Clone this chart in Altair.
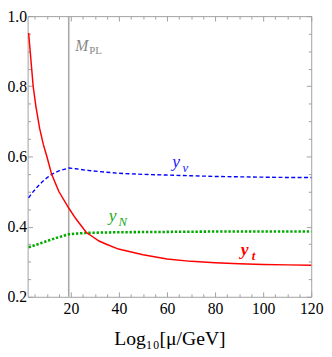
import altair as alt
import pandas as pd

FONT = "Liberation Serif"
FRAME = "#a0a0a0"

# ---- data ----
x_red = [2.4, 3.0, 4.3, 5.5, 7.0, 8.5, 10.0, 12.0, 15.0, 19.1, 22.0, 26.5, 28.5, 31.7, 35.0, 39.8,
         50.0, 60.0, 70.0, 80.0, 90.0, 100.0, 110.0, 120.0]
y_red = [0.952, 0.905, 0.80, 0.74, 0.68, 0.635, 0.60, 0.549, 0.50, 0.453, 0.423, 0.383, 0.374, 0.359,
         0.349, 0.336, 0.32, 0.308, 0.301, 0.297, 0.294, 0.292, 0.291, 0.290]

x_blue = [2.4, 4.0, 6.0, 8.0, 10.0, 12.0, 15.0, 19.1, 22.0, 26.0, 31.7, 40.0, 50.0, 60.0, 70.0,
          80.0, 90.0, 100.0, 110.0, 120.0]
y_blue = [0.482, 0.497, 0.513, 0.527, 0.539, 0.549, 0.559, 0.567, 0.565, 0.561, 0.557, 0.552, 0.549,
          0.547, 0.545, 0.543, 0.542, 0.541, 0.540, 0.540]

x_green = [2.4, 5.0, 8.0, 11.0, 14.0, 17.0, 19.1, 22.0, 26.0, 32.0, 40.0, 60.0, 80.0, 100.0, 120.0]
y_green = [0.341, 0.347, 0.354, 0.361, 0.368, 0.374, 0.378, 0.380, 0.382, 0.383, 0.384, 0.385,
           0.386, 0.386, 0.386]

planck_x = [19.1]

x_ticks_major = [20, 40, 60, 80, 100, 120]
x_ticks_minor = [5, 10, 15, 25, 30, 35, 45, 50, 55, 65, 70, 75, 85, 90, 95, 105, 110, 115]
y_ticks_major = [0.2, 0.4, 0.6, 0.8, 1.0]
y_ticks_minor = [0.25, 0.3, 0.35, 0.45, 0.5, 0.55, 0.65, 0.7, 0.75, 0.85, 0.9, 0.95]

# labels: main letters (italic), subscripts
main_text = ["y", "y", "M"]
main_x = [62.2, 35.8, 21.8]
main_y = [0.569, 0.4167, 0.90]
main_color = ["#1a1aff", "#22aa22", "#888888"]
main_size = [18, 18, 16]

sub_text = ["ν", "N"]
sub_x = [66.4, 39.8]
sub_y = [0.557, 0.403]
sub_color = ["#1a1aff", "#22aa22"]

yt_main = ["y"]
yt_main_x = [90.7]
yt_main_y = [0.319]
yt_sub = ["t"]
yt_sub_x = [95.2]
yt_sub_y = [0.306]

pl_text = ["PL"]
pl_x = [27.6]
pl_y = [0.892]

# ---- build ----
df = pd.concat([
    pd.DataFrame({"x": x_red, "y": y_red, "s": "yt"}),
    pd.DataFrame({"x": x_blue, "y": y_blue, "s": "ynu"}),
    pd.DataFrame({"x": x_green, "y": y_green, "s": "yN"}),
])

W, H = 289, 286
XS = alt.Scale(domain=[2, 120], nice=False, zero=False)
YS = alt.Scale(domain=[0.2, 1.0], nice=False, zero=False)


def tick_axis(orient, values, size, offset):
    return alt.Axis(orient=orient, values=values, labels=False, ticks=True, tickSize=size,
                    tickColor=FRAME, tickWidth=1, domain=False, grid=False, title=None,
                    offset=offset)


x_label_axis = alt.Axis(orient="bottom", values=x_ticks_major, format="d", ticks=False, tickSize=0,
                        domain=False, grid=False, labelFont=FONT, labelFontSize=16,
                        labelColor="black", labelPadding=4, labelFlush=False, labelOverlap=False,
                        title="Log₁₀[μ/GeV]", titleFont=FONT, titleFontSize=20,
                        titleFontWeight="normal", titleColor="black", titleY=49,
                        titleBaseline="alphabetic")
y_label_axis = alt.Axis(orient="left", values=y_ticks_major, format=".1f", ticks=False, tickSize=0,
                        domain=False, grid=False, labelFont=FONT, labelFontSize=16,
                        labelColor="black", labelPadding=1, labelFlush=False, labelOverlap=False,
                        title=None)

base = alt.Chart(df)


def line(series, color, xaxis, yaxis, **mk):
    return base.transform_filter(alt.datum.s == series).mark_line(color=color, **mk).encode(
        x=alt.X("x:Q", scale=XS, axis=xaxis),
        y=alt.Y("y:Q", scale=YS, axis=yaxis),
    )


red = line("yt", "#ff0000", x_label_axis, y_label_axis, strokeWidth=1.5)
blue = line("ynu", "#0000ff", tick_axis("top", x_ticks_major, 5, -H),
            tick_axis("right", y_ticks_major, 5, -W), strokeWidth=1.4, strokeDash=[4, 2.5])
green = line("yN", "#00aa00", tick_axis("top", x_ticks_minor, 3, -H),
             tick_axis("right", y_ticks_minor, 3, -W), strokeWidth=2.6, strokeDash=[2.4, 1.8])

rule = alt.Chart(pd.DataFrame({"x": planck_x})).mark_rule(color="#a8a8a8", strokeWidth=1.6).encode(
    x=alt.X("x:Q", scale=XS, axis=tick_axis("bottom", x_ticks_major, 5, -H))
)

main_df = pd.DataFrame({"t": main_text, "x": main_x, "y": main_y, "c": main_color, "fs": main_size})
main_lbl = alt.Chart(main_df).mark_text(font=FONT, fontStyle="italic", align="left",
                                         baseline="alphabetic").encode(
    x=alt.X("x:Q", scale=XS, axis=tick_axis("bottom", x_ticks_minor, 3, -H)),
    y=alt.Y("y:Q", scale=YS, axis=tick_axis("left", y_ticks_major, 5, -W)),
    text="t:N",
    color=alt.Color("c:N", scale=None),
    size=alt.Size("fs:Q", scale=None),
)

sub_df = pd.DataFrame({"t": sub_text, "x": sub_x, "y": sub_y, "c": sub_color})
sub_lbl = alt.Chart(sub_df).mark_text(font=FONT, fontStyle="italic", fontSize=13, align="left",
                                       baseline="alphabetic").encode(
    x=alt.X("x:Q", scale=XS, axis=None),
    y=alt.Y("y:Q", scale=YS, axis=tick_axis("left", y_ticks_minor, 3, -W)),
    text="t:N",
    color=alt.Color("c:N", scale=None),
)

yt_df = pd.DataFrame({"t": yt_main, "x": yt_main_x, "y": yt_main_y})
yt_lbl = alt.Chart(yt_df).mark_text(font=FONT, fontStyle="italic", fontWeight="bold", fontSize=18,
                                     align="left", baseline="alphabetic", color="#ff0000").encode(
    x=alt.X("x:Q", scale=XS, axis=None),
    y=alt.Y("y:Q", scale=YS, axis=None),
    text="t:N",
)

yts_df = pd.DataFrame({"t": yt_sub, "x": yt_sub_x, "y": yt_sub_y})
yts_lbl = alt.Chart(yts_df).mark_text(font=FONT, fontStyle="italic", fontWeight="bold", fontSize=13,
                                       align="left", baseline="alphabetic", color="#ff0000").encode(
    x=alt.X("x:Q", scale=XS, axis=None),
    y=alt.Y("y:Q", scale=YS, axis=None),
    text="t:N",
)

pl_df = pd.DataFrame({"t": pl_text, "x": pl_x, "y": pl_y})
pl_lbl = alt.Chart(pl_df).mark_text(font=FONT, fontSize=11, align="left", baseline="alphabetic",
                                     color="#888888").encode(
    x=alt.X("x:Q", scale=XS, axis=None),
    y=alt.Y("y:Q", scale=YS, axis=None),
    text="t:N",
)

chart = alt.layer(rule, green, blue, red, main_lbl, sub_lbl, yt_lbl, yts_lbl, pl_lbl).resolve_axis(
    x="independent", y="independent"
).properties(
    width=W, height=H,
    autosize=alt.AutoSizeParams(type="none"),
    padding={"left": 20, "top": 5, "right": 13, "bottom": 54},
).configure_view(stroke=FRAME, strokeWidth=1).configure_axis(
    labelFont=FONT, titleFont=FONT
).configure_text(font=FONT)

chart.save("out.html", embed_options={"renderer": "svg", "actions": False})
